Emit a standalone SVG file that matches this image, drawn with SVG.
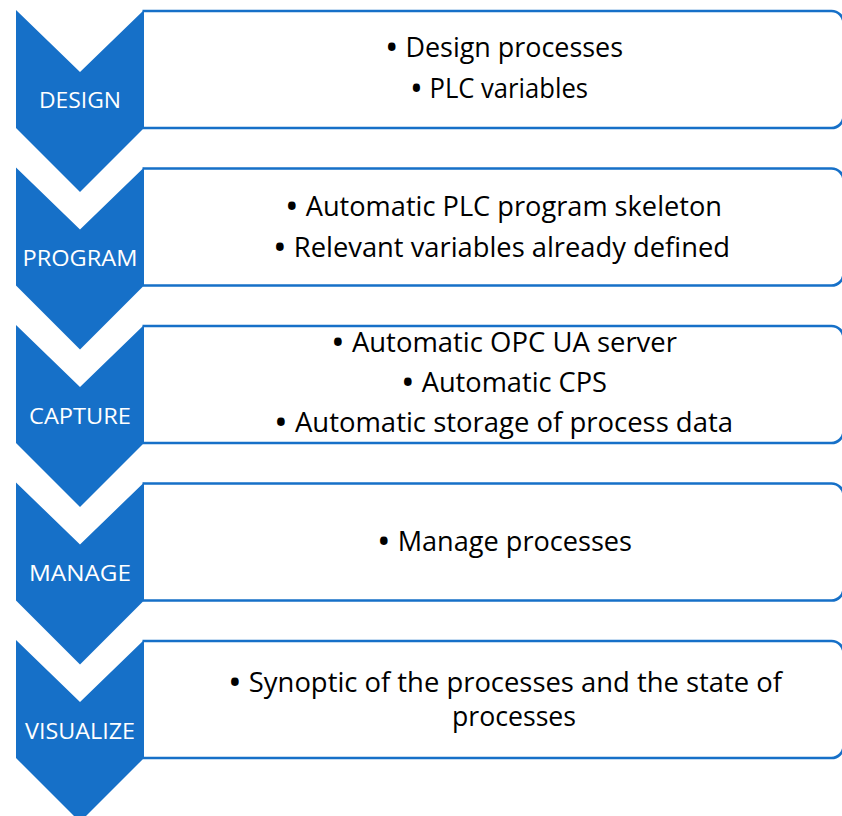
<svg xmlns="http://www.w3.org/2000/svg" width="842" height="816" viewBox="0 0 842 816">
  <style>
    .chev { fill: #1670c8; }
    .box { fill: #ffffff; stroke: #1670c8; stroke-width: 2.6; }
    .lab { font-family: "Open Sans", "Liberation Sans", sans-serif; font-size: 22.5px; fill: #ffffff; text-anchor: middle; }
    .txt { font-family: "Open Sans", "Liberation Sans", sans-serif; font-size: 27px; fill: #000000; }
    .b { font-size: 36px; }
  </style>
  <defs>
    <path id="boxshape" class="box" d="M142.5,0 H831.5 A12,12 0 0 1 843.5,12 V105 A12,12 0 0 1 831.5,117 H142.5"/>
  </defs>
  <rect width="842" height="816" fill="#ffffff"/>
  <g id="connectors"/>

  <g id="design">
    <use href="#boxshape" y="11"/>
    <polygon class="chev" points="16,10 80,72 144,10 144,128 80,192 16,128"/>
    <text class="lab" x="80" y="108" textLength="82" lengthAdjust="spacingAndGlyphs">DESIGN</text>
    <text class="txt" x="385" y="57" textLength="238" lengthAdjust="spacingAndGlyphs"><tspan class="b" dy="3">•</tspan><tspan dy="-3"> Design processes</tspan></text>
    <text class="txt" x="410" y="98" textLength="178" lengthAdjust="spacingAndGlyphs"><tspan class="b" dy="3">•</tspan><tspan dy="-3"> PLC variables</tspan></text>
  </g>

  <g id="program">
    <use href="#boxshape" y="168.5"/>
    <polygon class="chev" points="16,167.5 80,229.5 144,167.5 144,285.5 80,349.5 16,285.5"/>
    <text class="lab" x="80" y="266" textLength="115" lengthAdjust="spacingAndGlyphs">PROGRAM</text>
    <text class="txt" x="285" y="216" textLength="437" lengthAdjust="spacingAndGlyphs"><tspan class="b" dy="3">•</tspan><tspan dy="-3"> Automatic PLC program skeleton</tspan></text>
    <text class="txt" x="273" y="257" textLength="457" lengthAdjust="spacingAndGlyphs"><tspan class="b" dy="3">•</tspan><tspan dy="-3"> Relevant variables already defined</tspan></text>
  </g>

  <g id="capture">
    <use href="#boxshape" y="326"/>
    <polygon class="chev" points="16,325 80,387 144,325 144,443 80,507 16,443"/>
    <text class="lab" x="80" y="424" textLength="102" lengthAdjust="spacingAndGlyphs">CAPTURE</text>
    <text class="txt" x="331" y="352" textLength="346" lengthAdjust="spacingAndGlyphs"><tspan class="b" dy="3">•</tspan><tspan dy="-3"> Automatic OPC UA server</tspan></text>
    <text class="txt" x="401" y="392" textLength="206" lengthAdjust="spacingAndGlyphs"><tspan class="b" dy="3">•</tspan><tspan dy="-3"> Automatic CPS</tspan></text>
    <text class="txt" x="274" y="432" textLength="459" lengthAdjust="spacingAndGlyphs"><tspan class="b" dy="3">•</tspan><tspan dy="-3"> Automatic storage of process data</tspan></text>
  </g>

  <g id="manage">
    <use href="#boxshape" y="483.5"/>
    <polygon class="chev" points="16,482.5 80,544.5 144,482.5 144,600.5 80,664.5 16,600.5"/>
    <text class="lab" x="80" y="581" textLength="102" lengthAdjust="spacingAndGlyphs">MANAGE</text>
    <text class="txt" x="377" y="551" textLength="255" lengthAdjust="spacingAndGlyphs"><tspan class="b" dy="3">•</tspan><tspan dy="-3"> Manage processes</tspan></text>
  </g>

  <g id="visualize">
    <use href="#boxshape" y="641"/>
    <polygon class="chev" points="16,640 80,702 144,640 144,758 80,822 16,758"/>
    <text class="lab" x="80" y="739" textLength="110" lengthAdjust="spacingAndGlyphs">VISUALIZE</text>
    <text class="txt" x="228" y="692" textLength="554" lengthAdjust="spacingAndGlyphs"><tspan class="b" dy="3">•</tspan><tspan dy="-3"> Synoptic of the processes and the state of</tspan></text>
    <text class="txt" x="452" y="726" textLength="124" lengthAdjust="spacingAndGlyphs">processes</text>
  </g>
</svg>
